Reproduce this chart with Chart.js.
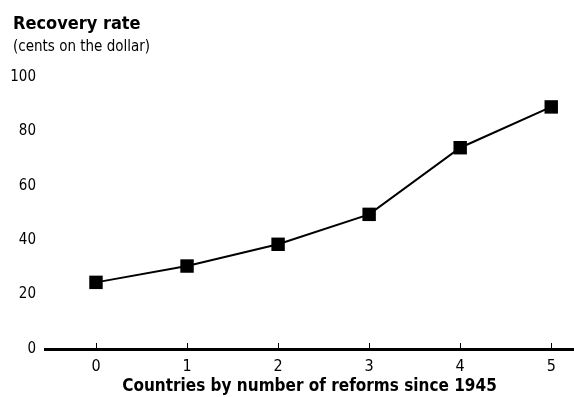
<!DOCTYPE html>
<html lang="en">
<head>
  <meta charset="UTF-8">
  <title>Recovery rate</title>
  <script src="https://cdn.jsdelivr.net/npm/chart.js@4.4.0/dist/chart.umd.min.js"></script>
  <style>
    body {
      margin: 0;
      background: #fff;
    }
    canvas {
      display: block;
    }
  </style>
</head>
<body>
  <canvas id="recoveryChart" width="574" height="397"></canvas>

  <script>
    // values
    const reforms = [0, 1, 2, 3, 4, 5];
    const recovery = [24.5, 30.5, 38.5, 49.5, 74, 89];
    const yTicks = [0, 20, 40, 60, 80, 100];

    const titleText = 'Recovery rate';
    const subtitleText = '(cents on the dollar)';
    const xTitleText = 'Countries by number of reforms since 1945';

    const FONT = '"Liberation Sans Narrow", "DejaVu Sans Condensed", Arial, sans-serif';

    // heading text + small upward tick marks on the x axis
    const extras = {
      id: 'extras',
      afterDraw(chart) {
        const ctx = chart.ctx;
        const x = chart.scales.x;
        const bottom = chart.chartArea.bottom;
        ctx.save();
        ctx.fillStyle = '#000';
        ctx.textAlign = 'left';
        ctx.textBaseline = 'alphabetic';
        ctx.font = 'bold 18px ' + FONT;
        ctx.fillText(titleText, 13, 29);
        ctx.font = '15px ' + FONT;
        ctx.fillText(subtitleText, 13, 51);

        ctx.strokeStyle = '#000';
        ctx.lineWidth = 1;
        reforms.forEach(v => {
          const px = Math.round(x.getPixelForValue(v)) + 0.5;
          ctx.beginPath();
          ctx.moveTo(px, bottom - 6);
          ctx.lineTo(px, bottom);
          ctx.stroke();
        });
        ctx.restore();
      }
    };

    new Chart(document.getElementById('recoveryChart'), {
      type: 'line',
      data: {
        datasets: [{
          data: reforms.map((r, i) => ({ x: r, y: recovery[i] })),
          borderColor: '#000',
          borderWidth: 2,
          tension: 0,
          pointStyle: 'rect',
          pointRadius: 9.5,
          pointBackgroundColor: '#000',
          pointBorderWidth: 0,
          clip: false
        }]
      },
      options: {
        responsive: false,
        animation: false,
        devicePixelRatio: 1,
        layout: {
          autoPadding: false,
          padding: { top: 77, left: 0, right: 0, bottom: 0 }
        },
        plugins: {
          legend: { display: false },
          tooltip: { enabled: false }
        },
        scales: {
          x: {
            type: 'linear',
            min: -0.56,
            max: 5.25,
            afterBuildTicks: scale => {
              scale.ticks = reforms.map(v => ({ value: v }));
            },
            afterFit: scale => {
              scale.height = 48;
              scale.paddingLeft = 0;
              scale.paddingRight = 0;
            },
            grid: { display: false, drawTicks: false },
            border: { display: true, color: '#000', width: 3 },
            ticks: {
              color: '#000',
              padding: 8,
              font: { family: FONT, size: 16 }
            },
            title: {
              display: true,
              text: xTitleText,
              color: '#000',
              padding: { top: 0, bottom: 0 },
              font: { family: FONT, size: 17, weight: 'bold' }
            }
          },
          y: {
            min: 0,
            max: 100,
            afterBuildTicks: scale => {
              scale.ticks = yTicks.map(v => ({ value: v }));
            },
            afterFit: scale => { scale.width = 45; },
            grid: { display: false, drawTicks: false },
            border: { display: false },
            ticks: {
              color: '#000',
              padding: 9,
              font: { family: FONT, size: 15 }
            }
          }
        }
      },
      plugins: [extras]
    });
  </script>
</body>
</html>
